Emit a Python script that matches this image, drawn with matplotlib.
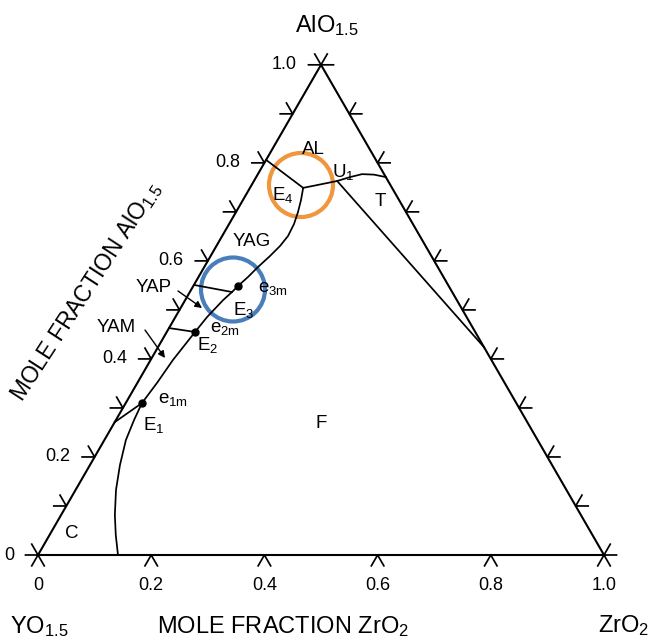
import numpy as np
import matplotlib
matplotlib.use("Agg")
import matplotlib.pyplot as plt
from matplotlib.patches import Circle

plt.rcParams['font.family'] = ['Liberation Sans', 'DejaVu Sans']
plt.rcParams['mathtext.fontset'] = 'custom'
plt.rcParams['mathtext.rm'] = 'Liberation Sans'
plt.rcParams['mathtext.it'] = 'Liberation Sans:italic'

# compositions: mole fraction ZrO2 / mole fraction AlO1.5
# eutectic valley E4 -> E3 -> E2 -> E1
valley_zr = [0.094, 0.1026, 0.1095, 0.1147, 0.1163, 0.1124, 0.1049, 0.0949,
             0.0874, 0.079, 0.0745, 0.067, 0.056, 0.050, 0.0395, 0.0347, 0.0287]
valley_al = [0.749, 0.7242, 0.6997, 0.6752, 0.6508, 0.6304, 0.610, 0.5875,
             0.5671, 0.549, 0.5365, 0.520, 0.4855, 0.455, 0.398, 0.351, 0.310]

# E4 -> U1 -> binary edge (AL / T boundary)
alt_zr = [0.094, 0.117, 0.147, 0.166, 0.184, 0.2056, 0.229]
alt_al = [0.749, 0.755, 0.763, 0.771, 0.777, 0.776, 0.771]

# E4 -> Y-Al edge (AL / YAG)
alyag_zr = [0.094, 0.0]
alyag_al = [0.749, 0.806]

# U1 -> Al-Zr edge (T / F)
tf_zr = [0.147, 0.576]
tf_al = [0.763, 0.424]

# tie lines to the Y-Al edge
yap_zr = [0.0, 0.0745]
yap_al = [0.551, 0.5365]
yam_zr = [0.0, 0.050]
yam_al = [0.463, 0.455]
c_zr = [0.0287, 0.0]
c_al = [0.310, 0.271]

# C / F boundary from E1 down to the Y-Zr edge
cf_zr = [0.0287, 0.032, 0.038, 0.053, 0.0715, 0.095, 0.117, 0.1413]
cf_al = [0.310, 0.2754, 0.2346, 0.1836, 0.1326, 0.0816, 0.0408, 0.0]

# invariant / eutectic points marked with dots
dot_zr = [0.079, 0.050, 0.0287]
dot_al = [0.549, 0.455, 0.310]

side_ticks = np.round(np.arange(0, 1.01, 0.1), 1)
base_ticks = np.round(np.arange(0, 1.01, 0.2), 1)
tick_labels = ['0', '0.2', '0.4', '0.6', '0.8', '1.0']

S3 = np.sqrt(3) / 2
SCALE = 566.0  # pixels per unit side


def tern(zr, al):
    zr = np.asarray(zr, float)
    al = np.asarray(al, float)
    return zr + al / 2, al * S3


def pix(px, py):
    return (px - 38) / SCALE, (555 - py) / SCALE


fig = plt.figure(figsize=(6.5, 6.39), dpi=100)
ax = fig.add_axes([0, 0, 1, 1])
ax.set_xlim(-38 / SCALE, 612 / SCALE)
ax.set_ylim(-84 / SCALE, 555 / SCALE)
ax.axis('off')

lw_edge = 1.5
lw = 1.25

# triangle
tx, ty = tern([0, 1, 0, 0], [0, 0, 1, 0])
ax.plot(tx, ty, color='k', lw=lw_edge, solid_joinstyle='miter')

# ticks
L = 12.5 / SCALE
for a in side_ticks:
    x, y = tern(0, a)
    ax.plot([x - L, x, x - L * 0.5], [y, y, y + L * S3], color='k', lw=lw)
    x, y = tern(1 - a, a)
    ax.plot([x + L, x, x + L * 0.5], [y, y, y + L * S3], color='k', lw=lw)
for z in base_ticks:
    x, y = tern(z, 0)
    ax.plot([x - L * 0.5, x, x + L * 0.5], [y - L * S3, y, y - L * S3],
            color='k', lw=lw)

fs_tick = 13
for a, lab in zip(base_ticks, tick_labels):
    x, y = tern(0, a)
    ax.text(x - 24 / SCALE, y, lab, ha='right', va='center', fontsize=fs_tick)
    x, y = tern(a, 0)
    ax.text(x, y - 30 / SCALE, lab, ha='center', va='center', fontsize=fs_tick)

# phase boundaries
for zr, al in [(valley_zr, valley_al), (alt_zr, alt_al), (alyag_zr, alyag_al),
               (tf_zr, tf_al), (yap_zr, yap_al), (yam_zr, yam_al),
               (c_zr, c_al), (cf_zr, cf_al)]:
    x, y = tern(zr, al)
    ax.plot(x, y, color='k', lw=lw, solid_joinstyle='round')

x, y = tern(dot_zr, dot_al)
ax.plot(x, y, 'o', color='k', ms=5)

# arrows to the narrow fields
for tail, head in [((178, 291), (202, 308)), ((145, 330), (165, 358))]:
    ax.annotate('', xy=pix(*head), xytext=pix(*tail),
                arrowprops=dict(arrowstyle='-|>', color='k', lw=1.0,
                                mutation_scale=10, shrinkA=0, shrinkB=0))

# field and point labels
fs = 13.5
centered = [('AL', 313, 150), ('YAG', 252, 242), ('T', 380, 202),
            ('F', 321, 424), ('C', 72, 533), ('YAP', 154, 287),
            ('YAM', 116, 327)]
for s, px, py in centered:
    ax.text(*pix(px, py), s, ha='center', va='center', fontsize=fs)

based = [(r'U$_{\mathregular{1}}$', 332, 177), (r'E$_{\mathregular{4}}$', 272, 200),
         (r'e$_{\mathregular{3m}}$', 258, 292), (r'E$_{\mathregular{3}}$', 233, 315),
         (r'e$_{\mathregular{2m}}$', 210, 332), (r'E$_{\mathregular{2}}$', 197, 350),
         (r'e$_{\mathregular{1m}}$', 158, 403), (r'E$_{\mathregular{1}}$', 143, 430)]
for s, px, py in based:
    ax.text(*pix(px, py), s, ha='left', va='baseline', fontsize=fs)

# highlight circles
rad = 32 / SCALE
ax.add_patch(Circle(pix(301, 185), rad, fill=False, ec='#F0963C', lw=3.0))
ax.add_patch(Circle(pix(233, 289.5), rad, fill=False, ec='#4A7EBB', lw=3.0))

# component and axis titles
fs_title = 17
ax.text(*pix(327, 32), r'AlO$_{\mathregular{1.5}}$', ha='center', va='baseline',
        fontsize=fs_title)
ax.text(*pix(10, 633), r'YO$_{\mathregular{1.5}}$', ha='left', va='baseline',
        fontsize=fs_title)
ax.text(*pix(598, 632), r'ZrO$_{\mathregular{2}}$', ha='left', va='baseline',
        fontsize=fs_title)
ax.text(*pix(283, 633), r'MOLE FRACTION ZrO$_{\mathregular{2}}$', ha='center',
        va='baseline', fontsize=fs_title)
ax.text(*pix(86, 291), r'MOLE FRACTION AlO$_{\mathregular{1.5}}$', ha='center',
        va='center', rotation=57, rotation_mode='anchor', fontsize=16.5)

fig.savefig('out.png', dpi=100)
